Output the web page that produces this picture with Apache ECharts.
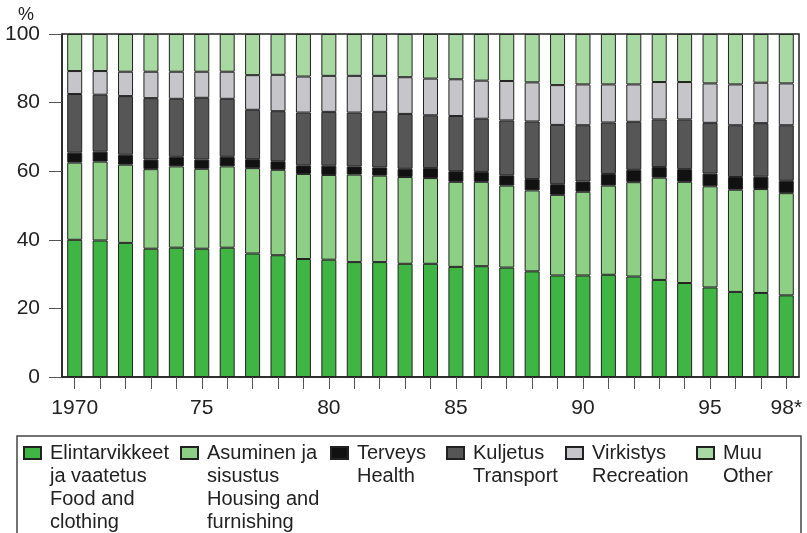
<!DOCTYPE html>
<html>
<head>
<meta charset="utf-8">
<script src="https://cdn.jsdelivr.net/npm/echarts@6/dist/echarts.min.js"></script>
<style>
html,body{margin:0;padding:0;background:#fff;}
#chart{width:807px;height:533px;}
</style>
</head>
<body>
<div id="chart"></div>
<script>
const years = ['1970','1971','1972','1973','1974','1975','1976','1977','1978','1979',
  '1980','1981','1982','1983','1984','1985','1986','1987','1988','1989',
  '1990','1991','1992','1993','1994','1995','1996','1997','1998'];
const tickYears = ['1970','1975','1980','1985','1990','1995','1998'];
const tickLabels = ['1970','75','80','85','90','95','98*'];

const food = [40.0,39.8,39.1,37.4,37.7,37.4,37.7,36.0,35.5,34.4,34.2,33.5,33.5,33.0,33.0,32.1,32.3,31.9,30.8,29.6,29.6,29.8,29.3,28.3,27.4,26.1,24.8,24.5,23.8];
const housing = [22.5,23.0,22.8,23.2,23.7,23.3,23.7,24.9,24.9,24.8,24.7,25.5,25.2,25.3,25.0,24.8,24.6,23.9,23.6,23.5,24.4,26.0,27.5,29.8,29.5,29.5,29.8,30.3,29.8];
const health = [2.9,2.9,2.9,2.8,2.8,2.7,2.8,2.6,2.5,2.5,2.7,2.4,2.4,2.4,2.9,3.1,2.9,3.0,3.3,3.1,3.0,3.4,3.6,3.1,3.7,3.7,3.7,3.6,3.6];
const transport = [17.1,16.6,17.1,17.9,16.9,18.0,16.9,14.4,14.6,15.4,15.7,15.7,16.2,16.0,15.4,16.1,15.5,16.0,16.8,17.3,16.4,15.0,14.0,13.9,14.5,14.8,15.1,15.6,16.2];
const recreation = [6.7,6.9,7.1,7.7,7.9,7.6,7.9,10.1,10.6,10.5,10.5,10.7,10.5,10.7,10.7,10.7,11.1,11.5,11.4,11.6,11.9,11.1,10.9,10.9,10.9,11.5,11.9,11.8,12.2];
const other = [10.8,10.8,11.0,11.0,11.0,11.0,11.0,12.0,11.9,12.4,12.2,12.2,12.2,12.6,13.0,13.2,13.6,13.7,14.1,14.9,14.7,14.7,14.7,14.0,14.0,14.4,14.7,14.2,14.4];

const seriesNames = ['Elintarvikkeet ja vaatetus','Asuminen ja sisustus','Terveys','Kuljetus','Virkistys','Muu'];
const legendLabels = [
  'Elintarvikkeet\nja vaatetus\nFood and\nclothing',
  'Asuminen ja\nsisustus\nHousing and\nfurnishing',
  'Terveys\nHealth',
  'Kuljetus\nTransport',
  'Virkistys\nRecreation',
  'Muu\nOther'
];
const seriesData = [food, housing, health, transport, recreation, other];
const colors = ['#3fb543','#8ccf85','#111111','#565656','#c6c6ca','#a9d9a2'];

const legendLeft = [23,180,330,446,565,696];
const iconTop = 447;
const lineH = 23;

const chart = echarts.init(document.getElementById('chart'), null, {renderer:'canvas'});

const legends = legendLabels.map(function(lbl, i){
  const n = lbl.split('\n').length;
  // leading blank lines keep the first text line level with the icon
  const shown = new Array(n).join('\n') + lbl;
  const top = iconTop + 6 - (2*n-1)*lineH/2;
  return {
    left: legendLeft[i],
    top: top,
    padding: 0,
    orient: 'horizontal',
    icon: 'rect',
    itemWidth: 17,
    itemHeight: 12,
    selectedMode: false,
    data: [seriesNames[i]],
    formatter: function(){ return shown; },
    textStyle: {
      fontFamily: 'Liberation Sans, Arial, sans-serif',
      fontSize: 20,
      lineHeight: lineH,
      color: '#222',
      padding: [0,0,0,4]
    }
  };
});

const option = {
  animation: false,
  backgroundColor: '#fff',
  grid: {
    left: 62, right: 8, top: 34, bottom: 156,
    show: true, borderColor: '#222', borderWidth: 1.5, backgroundColor: 'transparent'
  },
  legend: legends,
  graphic: [{
    type: 'rect',
    z: -1,
    shape: {x: 17, y: 436, width: 784, height: 110},
    style: {fill: 'none', stroke: '#444', lineWidth: 1.5}
  }],
  xAxis: {
    type: 'category',
    data: years,
    boundaryGap: true,
    axisLine: {show: true, lineStyle: {color: '#222', width: 1.5}},
    axisTick: {show: true, alignWithLabel: true, interval: 0, length: 12, lineStyle: {color: '#555', width: 1}},
    axisLabel: {
      interval: 0,
      margin: 21,
      fontFamily: 'Liberation Sans, Arial, sans-serif',
      fontSize: 21,
      color: '#222',
      formatter: function(v){
        const k = tickYears.indexOf(v);
        return k >= 0 ? tickLabels[k] : '';
      }
    },
    splitLine: {show: false}
  },
  yAxis: {
    type: 'value',
    min: 0, max: 100, interval: 20,
    name: '%',
    nameLocation: 'end',
    nameGap: 6,
    nameTextStyle: {
      fontFamily: 'Liberation Sans, Arial, sans-serif',
      fontSize: 18, color: '#222',
      padding: [0, 72, 0, 0]
    },
    axisLine: {show: true, lineStyle: {color: '#222', width: 1.5}},
    axisTick: {show: true, inside: false, length: 13, lineStyle: {color: '#555', width: 1}},
    axisLabel: {
      margin: 22,
      fontFamily: 'Liberation Sans, Arial, sans-serif',
      fontSize: 21, color: '#222'
    },
    splitLine: {show: false}
  },
  series: seriesData.map(function(d, i){
    return {
      name: seriesNames[i],
      type: 'bar',
      stack: 'total',
      barWidth: 15,
      data: d,
      itemStyle: {color: colors[i], borderColor: '#222', borderWidth: 1}
    };
  })
};
chart.setOption(option);
</script>
</body>
</html>
